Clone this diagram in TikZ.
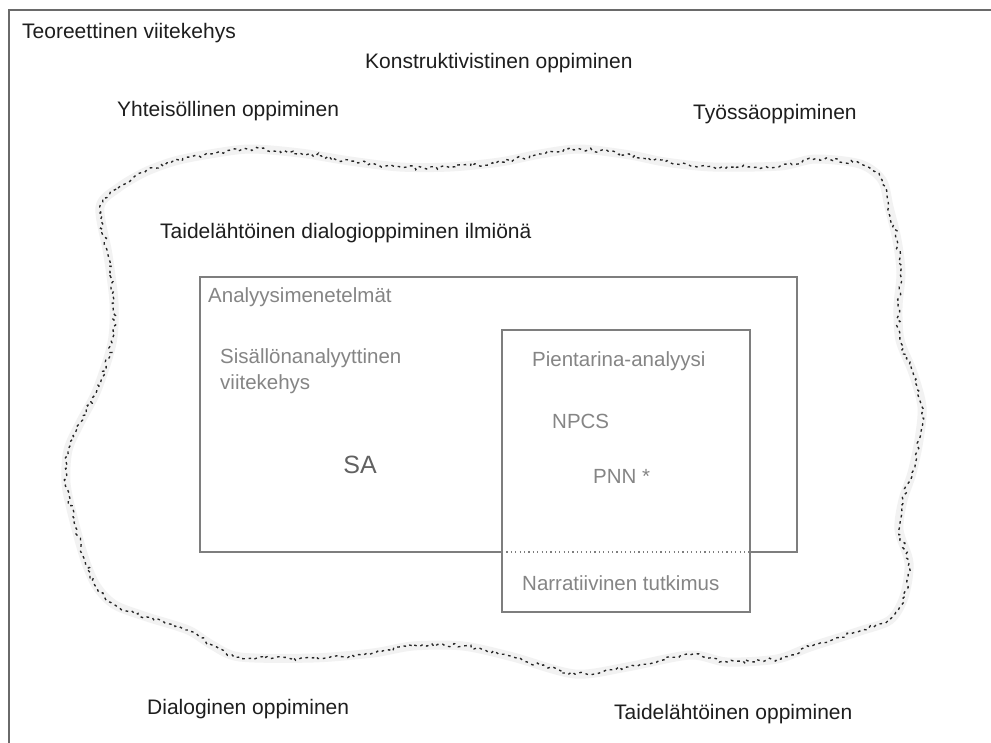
\documentclass[tikz,border=0pt]{standalone}
\usepackage{fontspec}
\setmainfont{Liberation Sans}
\usetikzlibrary{decorations.pathmorphing}
\definecolor{inkdark}{HTML}{1E1E1E}
\definecolor{inkgray}{HTML}{858585}
\definecolor{framegray}{HTML}{6A6A6A}
\definecolor{boxgray}{HTML}{7E7E7E}
\begin{document}
\begin{tikzpicture}[x=1pt,y=-1pt,
  lbl/.style={inner sep=0pt,anchor=west,text=inkdark,font=\fontsize{21}{25}\selectfont},
  glbl/.style={inner sep=0pt,anchor=west,text=inkgray,font=\fontsize{20.5}{26}\selectfont},
  boxline/.style={draw=boxgray,line width=1.4pt},
  cloudline/.style={draw=black!85,line width=1.35pt,dash pattern=on 2.6pt off 3.8pt,
    decorate,decoration={random steps,segment length=3.2pt,amplitude=2pt}},
  cloudhaze/.style={draw=black!5,line width=9pt,line join=round}]
\useasboundingbox (0,0) rectangle (991,742);
\fill[white] (0,0) rectangle (991,742);

% frame of the theoretical framework (open to the right and bottom)
\draw[framegray,line width=2.2pt] (9,760) -- (9,10) -- (1010,10);

% labels of the surrounding learning theories
\node[lbl] (teor) at (22,33) {Teoreettinen viitekehys};
\node[lbl] (konstr) at (365,63) {Konstruktivistinen oppiminen};
\node[lbl] (yhteis) at (117,111) {Yhteisöllinen oppiminen};
\node[lbl] (tyossa) at (693,114) {Työssäoppiminen};
\node[lbl] (dialog) at (147,709) {Dialoginen oppiminen};
\node[lbl] (taide) at (614,714) {Taidelähtöinen oppiminen};

% the phenomenon, drawn as an irregular dotted cloud
\def\cloudpts{(100,207) (118,188) (145,172) (175,161) (210,154) (250,149) (300,153)
  (350,161) (400,167) (450,167) (500,162) (540,154) (580,149) (630,155) (665,162)
  (713,167) (780,166) (815,159) (860,164) (882,180) (889,207) (897,240) (901,273)
  (898,307) (900,340) (913,373) (922,407) (919,440) (912,473) (903,500) (899,530)
  (909,563) (904,597) (890,620) (860,631) (810,647) (777,659) (727,662) (690,655)
  (627,667) (575,674) (513,657) (463,646) (413,646) (373,653) (313,658) (240,657)
  (212,645) (188,630) (147,617) (115,605) (97,587) (85,560) (73,517) (66,483)
  (68,450) (80,423) (97,390) (112,343) (114,303) (108,255)}
\draw[cloudhaze] plot[smooth cycle,tension=0.5] coordinates {\cloudpts};
\pgfmathsetseed{11}
\draw[cloudline] plot[smooth cycle,tension=0.5] coordinates {\cloudpts};

\node[lbl] (ilmio) at (160,233) {Taidelähtöinen dialogioppiminen ilmiönä};

% analysis methods box
\coordinate (am-nw) at (200,277);
\coordinate (am-se) at (797,552);
\coordinate (pa-nw) at (502,330);
\coordinate (pa-se) at (750,612);
\draw[boxline] (pa-nw |- am-se) -- (am-nw |- am-se) -- (am-nw) -- (am-se |- am-nw)
  -- (am-se) -- (pa-se |- am-se);
\draw[boxgray,line width=1.2pt,dash pattern=on 1.2pt off 3.2pt]
  (pa-nw |- am-se) -- (pa-se |- am-se);
% small-story analysis box
\draw[boxline] (pa-nw) rectangle (pa-se);

\node[glbl] (anal) at (208,297) {Analyysimenetelmät};
\node[glbl,align=left] (sis) at (220,371) {Sisällönanalyyttinen\\viitekehys};
\node[glbl,anchor=center,font=\fontsize{25}{30}\selectfont,text=black!62] (sa) at (360,465) {SA};
\node[glbl] (pien) at (532,361) {Pientarina-analyysi};
\node[glbl] (npcs) at (552,421) {NPCS};
\node[glbl] (pnn) at (593,476) {PNN *};
\node[glbl] (narr) at (522,583) {Narratiivinen tutkimus};
\end{tikzpicture}
\end{document}
